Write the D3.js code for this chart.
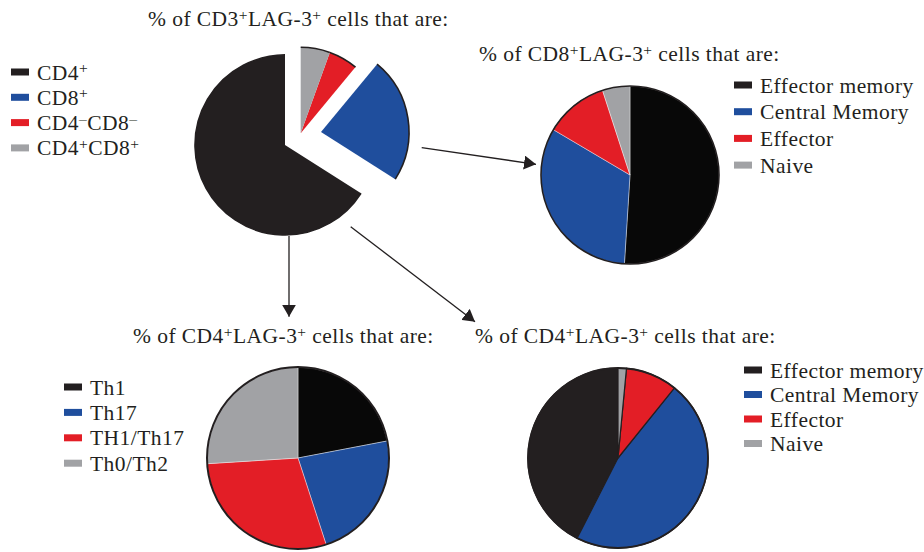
<!DOCTYPE html>
<html>
<head>
<meta charset="utf-8">
<script src="https://cdn.jsdelivr.net/npm/d3@7"></script>
<style>
  html, body { margin: 0; padding: 0; background: #fff; }
  svg { display: block; }
  text { font-family: "Liberation Serif", "DejaVu Serif", serif; fill: #231f20; letter-spacing: 0.45px; }
</style>
</head>
<body>
<svg id="chart" width="924" height="552"></svg>
<script>
// ---------------- DATA ----------------
const cd3Categories = ["CD4⁺", "CD8⁺", "CD4⁻CD8⁻", "CD4⁺CD8⁺"];
const cd3Values = [66, 23, 5.5, 5.5];

const cd8Categories = ["Effector memory", "Central Memory", "Effector", "Naive"];
const cd8Values = [51, 32.5, 11.5, 5];

const thCategories = ["Th1", "Th17", "TH1/Th17", "Th0/Th2"];
const thValues = [22, 23, 29, 26];

const cd4MemCategories = ["Effector memory", "Central Memory", "Effector", "Naive"];
const cd4MemValues = [42.5, 46.7, 9.3, 1.5];

const titles = [
  "% of CD3⁺LAG-3⁺ cells that are:",
  "% of CD8⁺LAG-3⁺ cells that are:",
  "% of CD4⁺LAG-3⁺ cells that are:",
  "% of CD4⁺LAG-3⁺ cells that are:"
];

// ---------------- STYLE ----------------
const colors = ["#231f20", "#1f4e9d", "#e31e26", "#a1a2a5"];
const svg = d3.select("#chart");
const ink = "#231f20";
const fontSize = 21.5;

// write text with superscript ⁺ / ⁻
function richText(sel, str, size) {
  sel.attr("font-size", size);
  const parts = str.split(/([⁺⁻])/);
  let sup = false;
  parts.forEach(p => {
    if (p === "") return;
    if (p === "⁺" || p === "⁻") {
      sel.append("tspan")
        .attr("font-size", size * 0.72)
        .attr("dy", -size * 0.3)
        .text(p === "⁺" ? "+" : "–");
      sup = true;
    } else {
      const t = sel.append("tspan").text(p);
      if (sup) { t.attr("dy", size * 0.3); sup = false; }
    }
  });
}

function title(str, x, y) {
  svg.append("text").attr("x", x).attr("y", y).call(richText, str, fontSize);
}

function legend(cats, x, y, step) {
  const g = svg.append("g").attr("transform", `translate(${x},${y})`);
  const rows = g.selectAll("g").data(cats).join("g")
    .attr("transform", (d, i) => `translate(0,${i * step})`);
  rows.append("rect").attr("x", 0).attr("y", -3.5).attr("width", 18).attr("height", 7)
    .attr("fill", (d, i) => colors[i]);
  rows.append("text").attr("x", 26).attr("y", 7.5)
    .each(function(d) { d3.select(this).call(richText, d, fontSize); });
}

function pie(values, cx, cy, r, opts) {
  const ccw = opts.ccw;
  const gen = d3.pie().sort(null)
    .startAngle(0).endAngle(ccw ? -2 * Math.PI : 2 * Math.PI);
  const arcs = gen(values);
  const g = svg.append("g").attr("transform", `translate(${cx},${cy})`);
  const arc = d3.arc().innerRadius(0).outerRadius(r);
  g.selectAll("path.slice").data(arcs).join("path")
    .attr("class", "slice")
    .attr("d", arc)
    .attr("fill", (d, i) => opts.fills ? opts.fills[i] : colors[i])
    .attr("stroke", opts.sepColor || "none")
    .attr("stroke-width", opts.sepWidth || 0);
  g.append("circle").attr("r", r).attr("fill", "none")
    .attr("stroke", ink).attr("stroke-width", opts.rim || 1.6);
}

// ---------------- TITLES ----------------
title(titles[0], 148, 26);
title(titles[1], 479, 61);
title(titles[2], 133, 343);
title(titles[3], 475, 343);

// ---------------- MAIN EXPLODED PIE ----------------
(function() {
  const cx = 285, cy = 145;
  const radii = [90, 88, 86, 86];
  const offsets = [[0, 0], [36, -13], [15.7, -11.7], [15.7, -11.7]];
  const arcs = d3.pie().sort(null).startAngle(0).endAngle(-2 * Math.PI)(cd3Values);
  const g = svg.append("g").attr("transform", `translate(${cx},${cy})`);
  const sl = g.selectAll("g.sl").data(arcs).join("g")
    .attr("transform", (d, i) => `translate(${offsets[i][0]},${offsets[i][1]})`);
  sl.append("path")
    .attr("d", (d, i) => d3.arc().innerRadius(0).outerRadius(radii[i])(d))
    .attr("fill", (d, i) => colors[i]);
  sl.append("path")
    .attr("d", (d, i) => d3.arc().innerRadius(radii[i]).outerRadius(radii[i])(d))
    .attr("fill", "none").attr("stroke", ink).attr("stroke-width", 1.6);
})();

// ---------------- OTHER PIES ----------------
pie(cd8Values, 630, 175, 89, { ccw: false, fills: ["#080808", colors[1], colors[2], colors[3]], sepColor: "#ffffff", sepWidth: 0.4, rim: 1.6 });
pie(thValues, 298, 458, 91, { ccw: false, fills: ["#080808", colors[1], colors[2], colors[3]], sepColor: "#ffffff", sepWidth: 0.4, rim: 2 });
pie(cd4MemValues, 618, 458, 90, { ccw: true, sepColor: ink, sepWidth: 1.2, rim: 1.8 });

// ---------------- LEGENDS ----------------
legend(cd3Categories, 11, 72, 25.3);
legend(cd8Categories, 734, 85, 26.7);
legend(thCategories, 64, 387, 25.4);
legend(cd4MemCategories, 744, 370, 24.5);

// ---------------- ARROWS ----------------
const defs = svg.append("defs");
defs.append("marker").attr("id", "head")
  .attr("markerUnits", "userSpaceOnUse")
  .attr("viewBox", "0 0 12 14").attr("refX", 12).attr("refY", 7)
  .attr("markerWidth", 12).attr("markerHeight", 14).attr("orient", "auto")
  .append("path").attr("d", "M0,0 L12,7 L0,14 Z").attr("fill", ink);

const arrows = [
  [[421.7, 147.7], [536, 164.3]],
  [[289, 236], [289, 316.7]],
  [[350.7, 226.7], [475, 321.7]]
];
svg.selectAll("line.arrow").data(arrows).join("line")
  .attr("class", "arrow")
  .attr("x1", d => d[0][0]).attr("y1", d => d[0][1])
  .attr("x2", d => d[1][0]).attr("y2", d => d[1][1])
  .attr("stroke", ink).attr("stroke-width", 1.3)
  .attr("marker-end", "url(#head)");
</script>
</body>
</html>
